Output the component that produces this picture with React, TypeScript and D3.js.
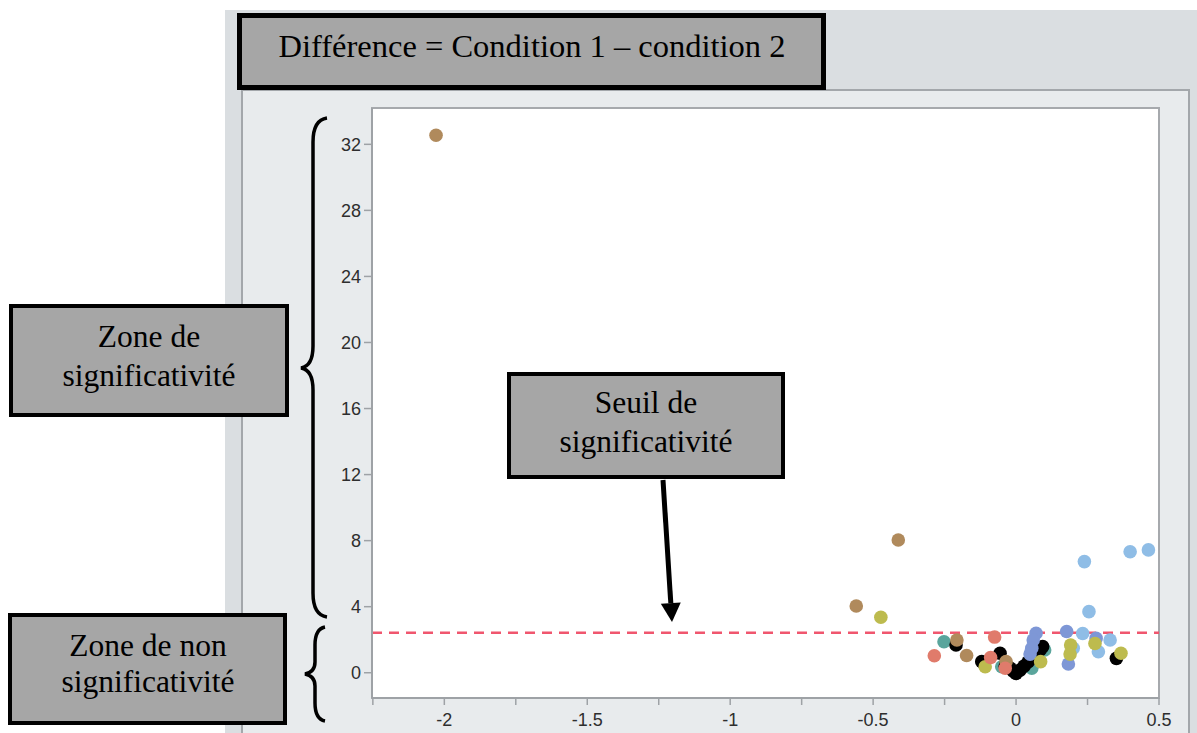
import React from "react";
import * as d3 from "d3";

type Pt = [number, number];

const brownPts: Pt[] = [
  [-2.029, 32.55], [-0.412, 8.04], [-0.559, 4.04], [-0.207, 1.98], [-0.173, 1.04], [-0.035, 0.67],
];
const olivePts: Pt[] = [
  [-0.473, 3.36], [0.191, 1.68], [0.189, 1.13], [0.276, 1.77], [0.367, 1.18], [0.086, 0.67], [-0.108, 0.36],
];
const lightBluePts: Pt[] = [
  [0.239, 6.73], [0.399, 7.33], [0.463, 7.44], [0.255, 3.7], [0.233, 2.38], [0.329, 1.98], [0.288, 1.27], [0.2, 1.48], [0.049, 0.77],
];
const periwinklePts: Pt[] = [
  [0.177, 2.5], [0.28, 2.08], [0.183, 0.53], [0.07, 2.39], [0.06, 1.98], [0.055, 1.48], [0.049, 1.13],
];
const salmonPts: Pt[] = [
  [-0.286, 1.03], [-0.075, 2.16], [-0.089, 0.92], [-0.038, 0.27],
];
const tealPts: Pt[] = [
  [-0.252, 1.88], [0.1, 1.38], [0.055, 0.27], [-0.05, 0.36],
];
const blackPts: Pt[] = [
  [-0.21, 1.68], [-0.12, 0.67], [-0.056, 1.18], [0.351, 0.87], [0.093, 1.58],
  [-0.01, 0.1], [0.0, -0.05], [0.014, 0.16], [0.028, 0.4], [0.042, 0.65], [0.059, 0.89],
  [-0.021, 0.28], [-0.038, 0.4], [0.073, 1.07], [0.084, 1.38],
];

const seriesOrder = [
  { pts: tealPts, color: "#5aa59c" },
  { pts: lightBluePts, color: "#8fbde6" },
  { pts: blackPts, color: "#000000" },
  { pts: periwinklePts, color: "#7e97d6" },
  { pts: olivePts, color: "#bdbb4e" },
  { pts: brownPts, color: "#b08a5c" },
  { pts: salmonPts, color: "#e07b6b" },
];

const threshold = 2.42;
const xTickValues = [-2.25, -2, -1.75, -1.5, -1.25, -1, -0.75, -0.5, -0.25, 0, 0.25, 0.5];
const xLabelValues = [-2, -1.5, -1, -0.5, 0, 0.5];
const yTickValues = [0, 4, 8, 12, 16, 20, 24, 28, 32];

const titleText = "Différence = Condition 1 – condition 2";

export default function App() {
  const L = 372, R = 1159, T = 108, B = 698;
  const x = d3.scaleLinear().domain([-2.253, 0.5]).range([L, R]);
  const y = d3.scaleLinear().domain([-1.53, 34.2]).range([B, T]);
  const axisColor = "#9ea2a6";
  const labelColor = "#2e2e2e";
  const serif = "'Liberation Serif', 'Times New Roman', serif";
  const sans = "'Liberation Sans', Arial, sans-serif";

  const bigBrace =
    "M327,118 Q313,120 313,142 L313,346 Q313,366 301,368 Q313,370 313,390 L313,593 Q313,615 327,617";
  const smallBrace =
    "M325,627 Q315,629 315,645 L315,662 Q315,672 305,674 Q315,676 315,686 L315,703 Q315,719 325,721";

  // arrow
  const ax1 = 663, ay1 = 480, ax2 = 672, ay2 = 622;
  const ang = Math.atan2(ay2 - ay1, ax2 - ax1);
  const headLen = 19, headW = 10;
  const bx = ax2 - headLen * Math.cos(ang), by = ay2 - headLen * Math.sin(ang);
  const px = -Math.sin(ang), py = Math.cos(ang);
  const head = `${ax2},${ay2} ${bx + headW * px},${by + headW * py} ${bx - headW * px},${by - headW * py}`;

  return (
    <svg width={1197} height={733} style={{ position: "absolute", left: 0, top: 0 }}>
      <rect x={0} y={0} width={1197} height={733} fill="#ffffff" />
      <rect x={225} y={10} width={972} height={723} fill="#dadee1" />
      <rect x={242} y={90} width={947} height={660} fill="#e8ebed" stroke="#a3a7ab" strokeWidth={2} />
      <rect x={L} y={T} width={R - L} height={B - T} fill="#ffffff" stroke="#a6a9ad" strokeWidth={2} />

      {/* threshold */}
      <line x1={L} x2={R} y1={y(threshold)} y2={y(threshold)} stroke="#f0566e" strokeWidth={2.4} strokeDasharray="10,7" />

      {/* points */}
      {seriesOrder.map((s, si) =>
        s.pts.map((p, i) => (
          <circle key={`${si}-${i}`} cx={x(p[0])} cy={y(p[1])} r={6.8} fill={s.color} />
        ))
      )}

      {/* axes */}
      <line x1={L} x2={L} y1={T} y2={B} stroke={axisColor} strokeWidth={2} />
      <line x1={L} x2={R} y1={B} y2={B} stroke={axisColor} strokeWidth={2} />
      {xTickValues.map((v) => (
        <line key={`xt${v}`} x1={x(v)} x2={x(v)} y1={B} y2={B + 7} stroke={axisColor} strokeWidth={1.5} />
      ))}
      {xLabelValues.map((v) => (
        <text key={`xl${v}`} x={x(v)} y={726} textAnchor="middle" fontFamily={sans} fontSize={18} fill={labelColor}>
          {String(v)}
        </text>
      ))}
      {yTickValues.map((v) => (
        <g key={`y${v}`}>
          <line x1={L - 8} x2={L} y1={y(v)} y2={y(v)} stroke={axisColor} strokeWidth={1.5} />
          <text x={L - 11} y={y(v)} dy="0.35em" textAnchor="end" fontFamily={sans} fontSize={18} fill={labelColor}>
            {v}
          </text>
        </g>
      ))}

      {/* title box */}
      <rect x={239.5} y={15.5} width={584} height={72} fill="#a6a6a6" stroke="#000" strokeWidth={5} />
      <text x={532} y={57} textAnchor="middle" fontFamily={serif} fontSize={32.5} fill="#000">
        {titleText}
      </text>

      {/* braces */}
      <path d={bigBrace} fill="none" stroke="#000" strokeWidth={3.5} />
      <path d={smallBrace} fill="none" stroke="#000" strokeWidth={3.5} />

      {/* zone boxes */}
      <rect x={11} y={306} width={276} height={109} fill="#a6a6a6" stroke="#000" strokeWidth={4} />
      <text x={149} y={347} textAnchor="middle" fontFamily={serif} fontSize={31.5} fill="#000">Zone de</text>
      <text x={149} y={386} textAnchor="middle" fontFamily={serif} fontSize={31.5} fill="#000">significativité</text>

      <rect x={10} y={615} width={275} height={108} fill="#a6a6a6" stroke="#000" strokeWidth={4} />
      <text x={148} y={656} textAnchor="middle" fontFamily={serif} fontSize={31.5} fill="#000">Zone de non</text>
      <text x={148} y={692} textAnchor="middle" fontFamily={serif} fontSize={31.5} fill="#000">significativité</text>

      <rect x={509} y={374} width={274} height={103} fill="#a6a6a6" stroke="#000" strokeWidth={4} />
      <text x={646} y={413} textAnchor="middle" fontFamily={serif} fontSize={31.5} fill="#000">Seuil de</text>
      <text x={646} y={452} textAnchor="middle" fontFamily={serif} fontSize={31.5} fill="#000">significativité</text>

      {/* arrow */}
      <line x1={ax1} y1={ay1} x2={bx} y2={by} stroke="#000" strokeWidth={5} />
      <polygon points={head} fill="#000" />
    </svg>
  );
}
